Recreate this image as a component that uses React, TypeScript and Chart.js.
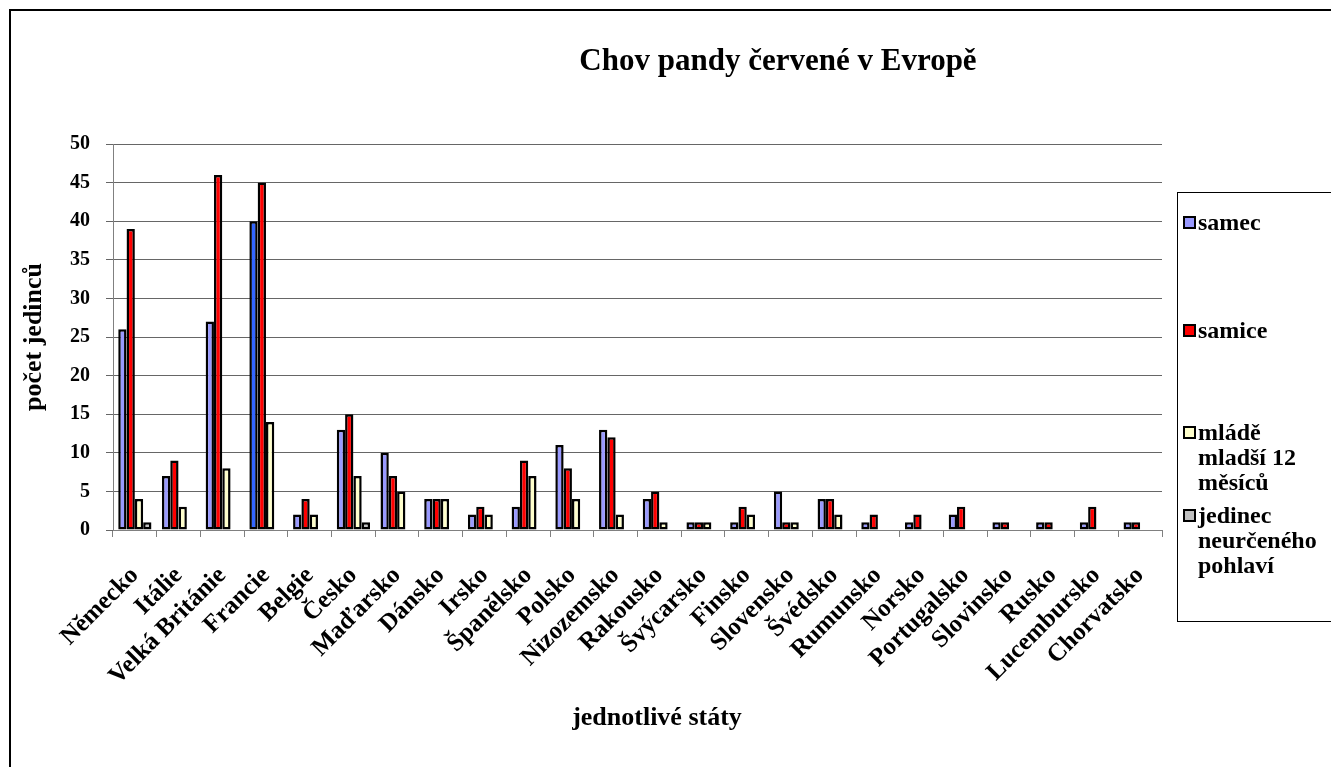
import React, { useEffect, useRef } from 'react';
import { Chart, registerables } from 'chart.js';

Chart.register(...registerables);

const chartTitle = 'Chov pandy červené v Evropě';
const xAxisTitle = 'jednotlivé státy';
const yAxisTitle = 'počet jedinců';

const categories = [
  'Německo', 'Itálie', 'Velká Británie', 'Francie', 'Belgie', 'Česko', 'Maďarsko', 'Dánsko',
  'Irsko', 'Španělsko', 'Polsko', 'Nizozemsko', 'Rakousko', 'Švýcarsko', 'Finsko', 'Slovensko',
  'Švédsko', 'Rumunsko', 'Norsko', 'Portugalsko', 'Slovinsko', 'Rusko', 'Lucembursko', 'Chorvatsko',
];

const samec = [26, 7, 27, 40, 2, 13, 10, 4, 2, 3, 11, 13, 4, 1, 1, 5, 4, 1, 1, 2, 1, 1, 1, 1];
const samice = [39, 9, 46, 45, 4, 15, 7, 4, 3, 9, 8, 12, 5, 1, 3, 1, 4, 2, 2, 3, 1, 1, 3, 1];
const mlade = [4, 3, 8, 14, 2, 7, 5, 4, 2, 7, 4, 2, 1, 1, 2, 1, 2, 0, 0, 0, 0, 0, 0, 0];
const jedinec = [1, 0, 0, 0, 0, 1, 0, 0, 0, 0, 0, 0, 0, 0, 0, 0, 0, 0, 0, 0, 0, 0, 0, 0];

const seriesNames = ['samec', 'samice', 'mládě mladší 12 měsíců', 'jedinec neurčeného pohlaví'];
const legendLines = [
  ['samec'],
  ['samice'],
  ['mládě', 'mladší 12', 'měsíců'],
  ['jedinec', 'neurčeného', 'pohlaví'],
];

const yTicks = [0, 5, 10, 15, 20, 25, 30, 35, 40, 45, 50];

const FONT = '"Liberation Serif", "Times New Roman", serif';

const colSamec = '#9999ff';
const colSamecHighlight = '#3366ff';
const colSamice = '#ff0000';
const colMlade = '#ffffcc';
const colJedinec = '#c0c0c0';

const decorPlugin = {
  id: 'decor',
  beforeDraw(chart: any) {
    const ctx = chart.ctx;
    ctx.save();
    ctx.fillStyle = '#ffffff';
    ctx.fillRect(0, 0, chart.width, chart.height);
    ctx.restore();
  },
  afterDraw(chart: any) {
    const ctx = chart.ctx;
    ctx.save();
    // outer frame (only left/top visible)
    ctx.strokeStyle = '#000000';
    ctx.lineWidth = 2;
    ctx.beginPath();
    ctx.moveTo(10, chart.height + 10);
    ctx.lineTo(10, 10);
    ctx.lineTo(chart.width + 10, 10);
    ctx.stroke();

    ctx.fillStyle = '#000000';
    ctx.textAlign = 'center';
    ctx.textBaseline = 'middle';
    ctx.font = `bold 31px ${FONT}`;
    ctx.fillText(chartTitle, 778, 62);

    ctx.font = `bold 26px ${FONT}`;
    ctx.fillText(xAxisTitle, 657, 718);

    // legend
    ctx.lineWidth = 1;
    ctx.strokeStyle = '#000000';
    ctx.strokeRect(1177.5, 192.5, 200, 429);
    const itemY = [223, 331, 433, 516];
    ctx.font = `bold 24px ${FONT}`;
    ctx.textAlign = 'left';
    chart.data.datasets.forEach((ds: any, i: number) => {
      const y = itemY[i];
      const bg = ds.legendColor;
      ctx.fillStyle = bg;
      ctx.fillRect(1184, y - 6, 11, 11);
      ctx.lineWidth = 2;
      ctx.strokeStyle = '#000000';
      ctx.strokeRect(1184, y - 6, 11, 11);
      ctx.fillStyle = '#000000';
      legendLines[i].forEach((line, j) => {
        ctx.fillText(line, 1198, y + 1 + j * 25);
      });
    });
    ctx.restore();
  },
};

export default function App() {
  const ref = useRef<HTMLCanvasElement | null>(null);

  useEffect(() => {
    if (!ref.current) return;
    const chart = new Chart(ref.current, {
      type: 'bar',
      data: {
        labels: categories,
        datasets: [
          {
            label: seriesNames[0],
            data: samec,
            backgroundColor: categories.map((c) => (c === 'Francie' ? colSamecHighlight : colSamec)),
            legendColor: colSamec,
          } as any,
          { label: seriesNames[1], data: samice, backgroundColor: colSamice, legendColor: colSamice } as any,
          { label: seriesNames[2], data: mlade, backgroundColor: colMlade, legendColor: colMlade } as any,
          { label: seriesNames[3], data: jedinec, backgroundColor: colJedinec, legendColor: colJedinec } as any,
        ],
      },
      options: {
        animation: false,
        responsive: true,
        maintainAspectRatio: false,
        layout: { padding: { left: 12, top: 144, right: 169, bottom: 20 } },
        datasets: {
          bar: {
            borderColor: '#000000',
            borderWidth: 2.5,
            borderSkipped: false,
            categoryPercentage: 0.76,
            barPercentage: 1,
          },
        },
        plugins: {
          legend: { display: false },
          title: { display: false },
          tooltip: { enabled: false },
        },
        scales: {
          x: {
            afterFit: (s: any) => {
              s.height = 217;
            },
            grid: {
              drawOnChartArea: false,
              drawTicks: true,
              tickLength: 7,
              color: '#808080',
              offset: true,
            },
            border: { display: true, color: '#808080', width: 1 },
            ticks: {
              autoSkip: false,
              minRotation: 45,
              maxRotation: 45,
              padding: 24,
              color: '#000000',
              font: { family: FONT, size: 25, weight: 'bold' },
            },
          },
          y: {
            min: 0,
            max: 50,
            afterFit: (s: any) => {
              s.width = 101;
            },
            afterBuildTicks: (s: any) => {
              s.ticks = yTicks.map((v) => ({ value: v }));
            },
            grid: {
              color: '#666666',
              tickLength: 7,
              drawTicks: true,
            },
            border: { display: true, color: '#808080', width: 1 },
            ticks: {
              padding: 16,
              color: '#000000',
              font: { family: FONT, size: 20, weight: 'bold' },
            },
            title: {
              display: true,
              text: yAxisTitle,
              color: '#000000',
              padding: { top: 7, bottom: 0 },
              font: { family: FONT, size: 26, weight: 'bold' },
            },
          },
        },
      } as any,
      plugins: [decorPlugin],
    });
    return () => chart.destroy();
  }, []);

  return (
    <div style={{ position: 'fixed', left: 0, top: 0, width: 1331, height: 767, background: '#fff' }}>
      <canvas ref={ref} />
    </div>
  );
}
